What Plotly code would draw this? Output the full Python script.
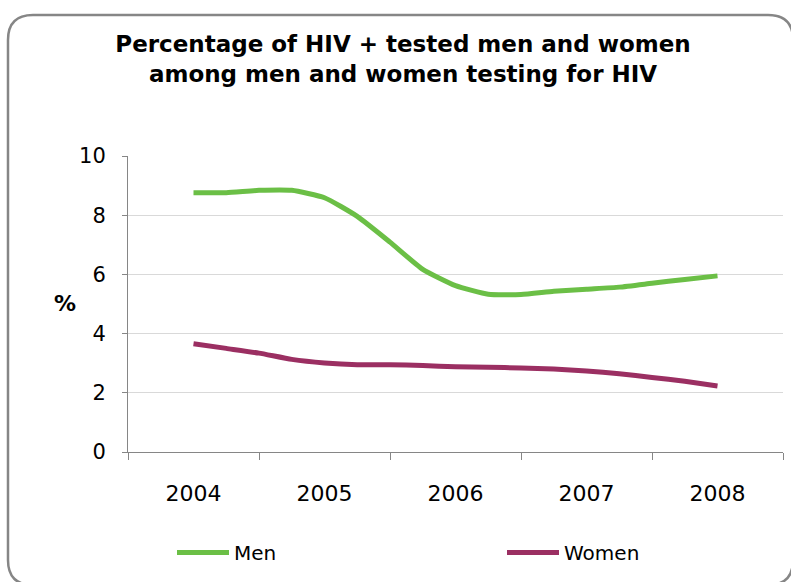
import plotly.graph_objects as go

# ---- data ----
quarters = [2004 + i * 0.25 for i in range(17)]
men = [8.76, 8.76, 8.84, 8.84, 8.59, 7.96, 7.09, 6.17, 5.62, 5.33, 5.32, 5.43, 5.50, 5.57, 5.70, 5.83, 5.95]
women = [3.66, 3.50, 3.34, 3.13, 3.01, 2.95, 2.95, 2.92, 2.88, 2.86, 2.84, 2.80, 2.74, 2.64, 2.52, 2.39, 2.23]
year_ticks = [2004, 2005, 2006, 2007, 2008]
year_labels = ["2004", "2005", "2006", "2007", "2008"]
y_ticks = [0, 2, 4, 6, 8, 10]

W, H = 791, 582
ML, MR, MT, MB = 128, 8, 156, 130
PW, PH = W - ML - MR, H - MT - MB

def px(x):
    return (x - ML) / PW

def py(y):
    return (H - MB - y) / PH

FONT = "DejaVu Sans"

fig = go.Figure()
fig.add_trace(go.Scatter(x=quarters, y=men, mode="lines", name="Men", legend="legend",
                         line=dict(color="#6BBF46", width=5, shape="spline", smoothing=0.5)))
fig.add_trace(go.Scatter(x=quarters, y=women, mode="lines", name="Women", legend="legend2",
                         line=dict(color="#9B2F62", width=5, shape="spline", smoothing=0.5)))

# rounded frame
L, T, R, B, r = 8, 15, 793, 585, 25
def P(x, y):
    return f"{px(x):.5f},{py(y):.5f}"
path = (f"M {P(L + r, T)} L {P(R - r, T)} Q {P(R, T)} {P(R, T + r)} "
        f"L {P(R, B - r)} Q {P(R, B)} {P(R - r, B)} L {P(L + r, B)} "
        f"Q {P(L, B)} {P(L, B - r)} L {P(L, T + r)} Q {P(L, T)} {P(L + r, T)} Z")
fig.add_shape(type="path", path=path, xref="paper", yref="paper",
              line=dict(color="#868686", width=2.5), layer="below")

fig.add_annotation(text="<b>%</b>", xref="paper", yref="paper", x=px(52), y=py(303),
                   xanchor="left", showarrow=False, font=dict(family=FONT, size=22, color="black"))

leg_common = dict(orientation="h", yanchor="top", xanchor="left",
                  font=dict(family=FONT, size=20, color="black"),
                  bgcolor="rgba(0,0,0,0)", itemwidth=52)

fig.update_layout(
    width=W, height=H,
    margin=dict(l=ML, r=MR, t=MT, b=MB, autoexpand=False),
    paper_bgcolor="white", plot_bgcolor="white",
    title=dict(text="<b>Percentage of HIV + tested men and women<br>among men and women testing for HIV</b>",
               x=403 / W, xanchor="center", xref="container",
               y=1 - 52 / H, yanchor="top", yref="container",
               font=dict(family=FONT, size=23, color="black")),
    showlegend=True,
    legend=dict(x=px(172), y=py(533), **leg_common),
    legend2=dict(x=px(502), y=py(533), **leg_common),
    xaxis=dict(range=[2003.5, 2008.5], tickvals=year_ticks, ticktext=year_labels,
               ticks="", showgrid=False, zeroline=False,
               showline=True, linecolor="#868686", linewidth=1,
               tickfont=dict(family=FONT, size=22, color="black"),
               ticklabelstandoff=22,
               minor=dict(tickvals=[2003.5, 2004.5, 2005.5, 2006.5, 2007.5, 2008.5],
                          ticks="outside", ticklen=7, tickcolor="#868686", showgrid=False)),
    yaxis=dict(range=[0, 10], tickvals=y_ticks, ticks="outside", ticklen=5, tickcolor="#868686",
               showgrid=True, gridcolor="#D9D9D9", gridwidth=1, zeroline=False,
               showline=True, linecolor="#868686", linewidth=1,
               tickfont=dict(family=FONT, size=21, color="black"),
               ticklabelstandoff=12),
)

fig.write_html("out.html")
